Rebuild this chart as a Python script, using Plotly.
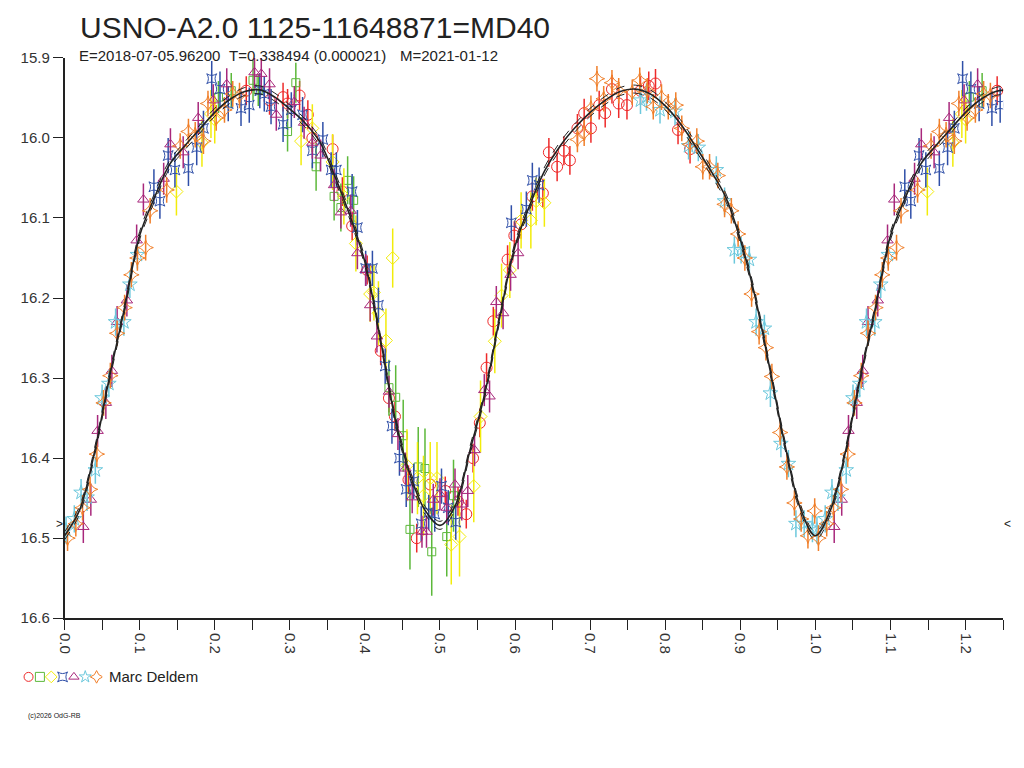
import plotly.graph_objects as go

# header texts
title = "USNO-A2.0 1125-11648871=MD40"
subtitle = ["E=2018-07-05.96200", "T=0.338494 (0.000021)", "M=2021-01-12"]
observer = "Marc Deldem"
copyright_txt = "(c)2026 OdG-RB"
min_level = 16.482

# fitted light curve (phase, magnitude)
fit_phase = [0.00, 0.02, 0.04, 0.06, 0.08, 0.10, 0.12, 0.14, 0.16, 0.18,
             0.20, 0.22, 0.24, 0.26, 0.28, 0.30, 0.32, 0.34, 0.36, 0.38,
             0.40, 0.42, 0.44, 0.46, 0.48, 0.50, 0.52, 0.54, 0.56, 0.58,
             0.60, 0.62, 0.64, 0.66, 0.68, 0.70, 0.72, 0.74, 0.76, 0.78,
             0.80, 0.82, 0.84, 0.86, 0.88, 0.90, 0.92, 0.94, 0.96, 0.98, 1.00]
fit_mag = [16.497, 16.465, 16.392, 16.298, 16.212, 16.122, 16.074, 16.033, 16.010, 15.989,
           15.968, 15.952, 15.942, 15.940, 15.949, 15.964, 15.981, 16.005, 16.048, 16.097,
           16.155, 16.248, 16.350, 16.420, 16.465, 16.484, 16.460, 16.390, 16.318, 16.222,
           16.135, 16.083, 16.040, 16.010, 15.987, 15.968, 15.953, 15.942, 15.939, 15.945,
           15.960, 15.982, 16.010, 16.040, 16.073, 16.127, 16.200, 16.292, 16.386, 16.463, 16.497]
fit_band = 0.005

# observations, one list per symbol
red_phase = [0.242, 0.273, 0.291, 0.297, 0.313, 0.324, 0.330, 0.357, 0.370, 0.383,
             0.403, 0.421, 0.432, 0.440, 0.458, 0.469, 0.487, 0.507, 0.524, 0.535,
             0.544, 0.553, 0.562, 0.571, 0.590, 0.599, 0.608, 0.623, 0.637, 0.645,
             0.656, 0.665, 0.673, 0.683, 0.692, 0.701, 0.712, 0.720, 0.729, 0.738,
             0.749, 0.767, 0.778, 0.787, 0.817, 0.833]
red_mag = [15.941, 15.953, 15.949, 15.957, 15.947, 15.971, 16.000, 16.014, 16.067, 16.110,
           16.165, 16.266, 16.325, 16.348, 16.427, 16.500, 16.433, 16.441, 16.454, 16.470,
           16.400, 16.356, 16.287, 16.229, 16.152, 16.122, 16.108, 16.073, 16.069, 16.018,
           16.036, 16.016, 16.028, 15.988, 15.969, 15.988, 15.959, 15.969, 15.939, 15.957,
           15.959, 15.941, 15.935, 15.932, 15.990, 16.014]
red_err = 0.018

green_phase = [0.205, 0.222, 0.251, 0.258, 0.297, 0.308, 0.335, 0.359, 0.368, 0.377,
               0.385, 0.432, 0.441, 0.451, 0.460, 0.471, 0.480, 0.489, 0.509, 0.518]
green_mag = [15.949, 15.941, 15.928, 15.940, 15.992, 15.931, 16.036, 16.073, 16.087, 16.053,
             16.078, 16.312, 16.324, 16.372, 16.489, 16.411, 16.413, 16.517, 16.498, 16.447]
green_err = [0.020, 0.022, 0.025, 0.020, 0.025, 0.025, 0.030, 0.030, 0.030, 0.030,
             0.030, 0.035, 0.040, 0.045, 0.050, 0.050, 0.050, 0.055, 0.050, 0.045]

yellow_phase = [0.149, 0.183, 0.195, 0.200, 0.315, 0.330, 0.357, 0.372, 0.388, 0.407,
                0.412, 0.418, 0.428, 0.437, 0.456, 0.470, 0.478, 0.487, 0.496, 0.515,
                0.526, 0.545, 0.554, 0.573, 0.582, 0.593, 0.608, 0.621, 0.628, 0.639]
yellow_mag = [16.067, 16.006, 15.970, 15.977, 16.004, 15.988, 16.030, 16.073, 16.132, 16.195,
              16.193, 16.219, 16.253, 16.150, 16.409, 16.425, 16.447, 16.425, 16.425, 16.508,
              16.498, 16.435, 16.348, 16.254, 16.197, 16.165, 16.103, 16.103, 16.079, 16.081]
yellow_err = [0.030, 0.030, 0.030, 0.030, 0.030, 0.030, 0.035, 0.035, 0.035, 0.035,
              0.035, 0.040, 0.040, 0.037, 0.045, 0.045, 0.050, 0.045, 0.045, 0.050,
              0.050, 0.045, 0.045, 0.040, 0.040, 0.035, 0.035, 0.035, 0.030, 0.030]

blue_phase = [0.119, 0.127, 0.138, 0.147, 0.165, 0.176, 0.185, 0.196, 0.207, 0.218,
              0.235, 0.246, 0.260, 0.266, 0.275, 0.291, 0.302, 0.317, 0.330, 0.344,
              0.355, 0.362, 0.383, 0.390, 0.401, 0.410, 0.418, 0.427, 0.436, 0.446,
              0.455, 0.465, 0.475, 0.485, 0.493, 0.502, 0.511, 0.521, 0.595, 0.615,
              0.623, 0.632]
blue_mag = [16.061, 16.079, 16.022, 16.040, 16.038, 16.012, 15.988, 15.926, 15.939, 15.957,
            15.963, 15.959, 15.941, 15.945, 15.961, 15.983, 15.965, 15.971, 16.016, 16.002,
            16.040, 16.040, 16.067, 16.112, 16.163, 16.163, 16.209, 16.285, 16.360, 16.400,
            16.439, 16.429, 16.482, 16.468, 16.470, 16.435, 16.462, 16.480, 16.106, 16.089,
            16.053, 16.059]
blue_err = 0.022

purple_phase = [0.025, 0.035, 0.044, 0.055, 0.063, 0.070, 0.083, 0.096, 0.105, 0.132,
                0.141, 0.158, 0.178, 0.198, 0.216, 0.253, 0.262, 0.273, 0.282, 0.306,
                0.319, 0.330, 0.341, 0.359, 0.368, 0.381, 0.390, 0.401, 0.407, 0.416,
                0.432, 0.444, 0.454, 0.463, 0.476, 0.482, 0.491, 0.500, 0.509, 0.520,
                0.529, 0.537, 0.546, 0.559, 0.566, 0.575, 0.584, 0.594, 0.604]
purple_mag = [16.486, 16.452, 16.366, 16.331, 16.291, 16.230, 16.203, 16.128, 16.077, 16.051,
              16.008, 16.018, 15.975, 15.953, 15.933, 15.918, 15.920, 15.933, 15.971, 15.955,
              15.981, 16.006, 16.022, 16.059, 16.093, 16.091, 16.144, 16.165, 16.209, 16.248,
              16.317, 16.370, 16.413, 16.449, 16.492, 16.492, 16.452, 16.445, 16.462, 16.433,
              16.458, 16.441, 16.390, 16.315, 16.323, 16.205, 16.219, 16.171, 16.144]
purple_err = 0.020

cyan_phase = [0.002, 0.013, 0.022, 0.030, 0.041, 0.050, 0.059, 0.068, 0.079, 0.087,
              0.097, 0.767, 0.775, 0.793, 0.813, 0.831, 0.844, 0.868, 0.879, 0.892,
              0.901, 0.912, 0.921, 0.932, 0.940, 0.954, 0.964, 0.974, 0.985, 0.996]
cyan_mag = [16.490, 16.476, 16.443, 16.449, 16.415, 16.325, 16.307, 16.230, 16.230, 16.183,
            16.146, 15.953, 15.949, 15.965, 15.967, 16.010, 16.012, 16.040, 16.079, 16.140,
            16.140, 16.152, 16.230, 16.238, 16.319, 16.382, 16.407, 16.482, 16.482, 16.488]
cyan_err = 0.017

orange_phase = [0.004, 0.015, 0.024, 0.034, 0.043, 0.052, 0.061, 0.070, 0.080, 0.089,
                0.097, 0.108, 0.114, 0.136, 0.154, 0.165, 0.174, 0.185, 0.191, 0.202,
                0.213, 0.224, 0.233, 0.683, 0.692, 0.701, 0.709, 0.718, 0.729, 0.738,
                0.756, 0.766, 0.776, 0.784, 0.795, 0.804, 0.814, 0.822, 0.833, 0.842,
                0.850, 0.859, 0.870, 0.879, 0.888, 0.897, 0.906, 0.915, 0.925, 0.934,
                0.942, 0.953, 0.962, 0.972, 0.981, 0.990, 0.999]
orange_mag = [16.500, 16.482, 16.462, 16.439, 16.395, 16.331, 16.297, 16.244, 16.212, 16.171,
              16.150, 16.137, 16.091, 16.065, 16.010, 15.992, 15.996, 16.004, 15.957, 15.975,
              15.965, 15.945, 15.947, 16.002, 15.994, 15.963, 15.926, 15.951, 15.931, 15.941,
              15.943, 15.928, 15.941, 15.961, 15.949, 15.961, 15.959, 15.988, 16.008, 16.004,
              16.036, 16.036, 16.047, 16.083, 16.091, 16.120, 16.150, 16.195, 16.242, 16.262,
              16.298, 16.368, 16.411, 16.456, 16.476, 16.497, 16.466]
orange_err = 0.016

series = [
    (red_phase, red_mag, red_err, "circle-open", "#ee2a2a", 11),
    (green_phase, green_mag, green_err, "square-open", "#5cb83a", 8),
    (yellow_phase, yellow_mag, yellow_err, "diamond-open", "#f2ec0a", 10),
    (blue_phase, blue_mag, blue_err, "star-square-open", "#2f4fa8", 9),
    (purple_phase, purple_mag, purple_err, "triangle-up-open", "#a8287c", 10),
    (cyan_phase, cyan_mag, cyan_err, "star-open", "#6cc8dc", 11),
    (orange_phase, orange_mag, orange_err, "star-diamond-open", "#f07f2a", 11),
]

W, H = 1024, 768
FONT = "Liberation Sans, Arial, sans-serif"
INK = "#222222"


def fold(phase, mag, err, upto=0.25):
    # the chart repeats the first quarter of the cycle after phase 1
    if not isinstance(err, list):
        err = [err] * len(phase)
    px, py, pe = list(phase), list(mag), list(err)
    for p, m, e in zip(phase, mag, err):
        if p <= upto:
            px.append(p + 1)
            py.append(m)
            pe.append(e)
    return px, py, pe


fig = go.Figure()

for phase, mag, err, symbol, color, size in series:
    x, y, e = fold(phase, mag, err)
    fig.add_trace(go.Scatter(
        x=x, y=y, mode="markers", showlegend=False,
        marker=dict(symbol=symbol, size=size, color=color, line=dict(width=1, color=color)),
        error_y=dict(type="data", array=e, visible=True, color=color, thickness=1.5, width=0),
    ))

fx, fy, _ = fold(fit_phase, fit_mag, 0, upto=0.26)
fx = fx[:len(fit_phase)] + fx[len(fit_phase) + 1:]
fy = fy[:len(fit_phase)] + fy[len(fit_phase) + 1:]
for off in (-fit_band, fit_band):
    fig.add_trace(go.Scatter(x=fx, y=[v + off for v in fy], mode="lines", showlegend=False,
                             line=dict(color=INK, width=1, dash="dash", shape="spline")))
fig.add_trace(go.Scatter(x=fx, y=fy, mode="lines", showlegend=False,
                         line=dict(color=INK, width=1.6, shape="spline")))

# symbol key under the plot
fig.add_trace(go.Scatter(
    x=list(range(len(series))), y=[0] * len(series), mode="markers", showlegend=False,
    xaxis="x2", yaxis="y2",
    marker=dict(symbol=[s[3] for s in series], color=[s[4] for s in series], size=9,
                line=dict(width=1, color=[s[4] for s in series])),
))

fig.update_layout(
    width=W, height=H, margin=dict(l=0, r=0, t=0, b=0),
    paper_bgcolor="white", plot_bgcolor="white",
    font=dict(family=FONT, color=INK),
    xaxis=dict(domain=[57 / W, 1003 / W], range=[0, 1.25], dtick=0.1, tick0=0,
               tickformat=".1f", ticks="outside", ticklen=10, tickcolor=INK,
               showline=True, linecolor=INK, linewidth=1.5, showgrid=False, zeroline=False,
               tickangle=90, tickfont=dict(size=15, color="#333"),
               minor=dict(dtick=0.05, ticks="outside", ticklen=10, tickcolor=INK)),
    yaxis=dict(domain=[1 - 623 / H, 1 - 50 / H], range=[16.6, 15.9], dtick=0.1,
               tickformat=".1f", ticks="outside", ticklen=10, tickcolor=INK,
               showline=True, linecolor=INK, linewidth=1.5, showgrid=False, zeroline=False,
               tickfont=dict(size=15, color="#333")),
    xaxis2=dict(domain=[15 / W, 95 / W], range=[-0.5, len(series) - 0.5], visible=False),
    yaxis2=dict(domain=[1 - 693 / H, 1 - 673 / H], range=[-1, 1], visible=False),
)

ann = [
    dict(text=title, x=71 / W, y=1 - 19 / H, font=dict(size=30, color=INK)),
    dict(text=subtitle[0], x=70 / W, y=1 - 48 / H, font=dict(size=15, color=INK)),
    dict(text=subtitle[1], x=221 / W, y=1 - 48 / H, font=dict(size=15, color=INK)),
    dict(text=subtitle[2], x=393 / W, y=1 - 48 / H, font=dict(size=15, color=INK)),
    dict(text=observer, x=100 / W, y=1 - 683 / H, font=dict(size=15, color=INK)),
    dict(text=copyright_txt, x=18 / W, y=1 - 723 / H, font=dict(size=7, color=INK)),
]
for a in ann:
    fig.add_annotation(xref="paper", yref="paper", xanchor="left", yanchor="middle",
                       showarrow=False, **a)
fig.add_annotation(text=">", xref="paper", yref="y", x=52 / W, y=min_level, xanchor="center",
                   yanchor="middle", showarrow=False, font=dict(size=12, color=INK))
fig.add_annotation(text="<", xref="paper", yref="y", x=1007 / W, y=min_level, xanchor="center",
                   yanchor="middle", showarrow=False, font=dict(size=12, color=INK))

# no page margin and no scrollbars, so the figure fills the window exactly
page_css = ("var s=document.createElement('style');"
            "s.textContent='html,body{margin:0;padding:0;overflow:hidden;}';"
            "document.head.appendChild(s);")
fig.write_html("out.html", config={"displayModeBar": False}, post_script=page_css)
